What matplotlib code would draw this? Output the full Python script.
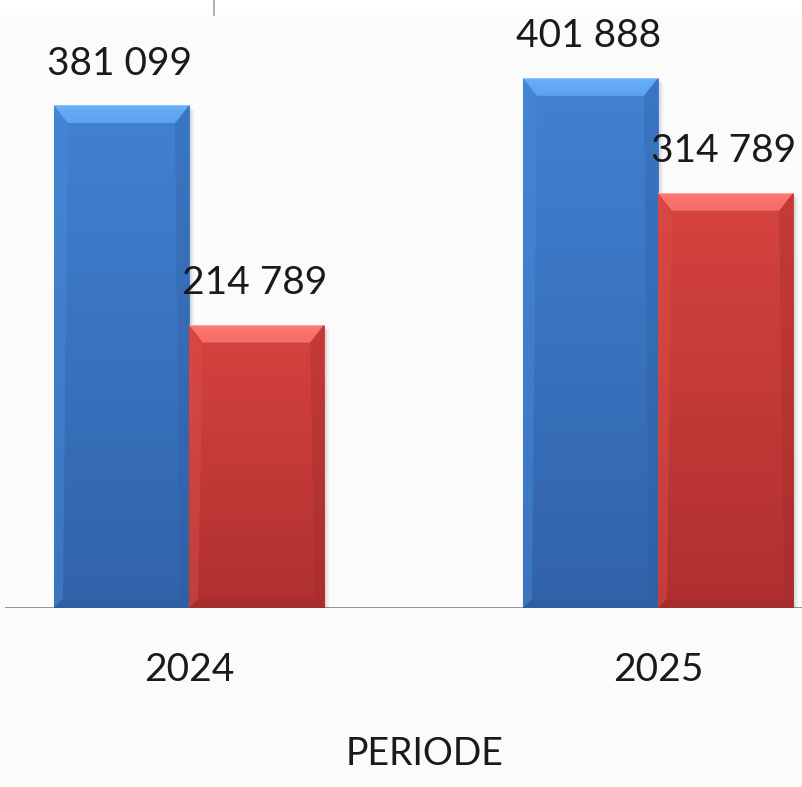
import matplotlib
matplotlib.use("Agg")
import matplotlib.pyplot as plt
import numpy as np
from matplotlib.patches import Polygon, Rectangle
from matplotlib.lines import Line2D
from matplotlib.colors import to_rgb

# ---- data ----
periods = ["2024", "2025"]
series_a = [381099, 401888]   # blue
series_b = [214789, 314789]   # red
labels_a = ["381 099", "401 888"]
labels_b = ["214 789", "314 789"]
axis_title = "PERIODE"

# ---- styles ----
FONT = ["Lato", "DejaVu Sans"]
styles = [
    dict(top="#4182d2", bottom="#3163aa", bevel_top="#5fa2ea", bevel_left="#4a8bd8",
         bevel_right="#2c5c9c", bevel_bottom="#2a5898"),
    dict(top="#d6433e", bottom="#af3030", bevel_top="#f26e69", bevel_left="#dc4f4a",
         bevel_right="#9c2a2a", bevel_bottom="#9a2a2a"),
]

W, H = 803, 787
fig = plt.figure(figsize=(W / 100, H / 100), dpi=100, facecolor="#fbfbfb")
fig.patches.append(Rectangle((0, 1 - 15 / H), 1, 15 / H, transform=fig.transFigure,
                             facecolor="white", edgecolor="none", zorder=0))
fig.lines.append(Line2D([214 / W, 214 / W], [1, 1 - 15 / H], transform=fig.transFigure,
                        color="#9aa89a", lw=1.2))

ax = fig.add_axes([5 / W, (H - 608) / H, 798 / W, (608 - 15) / H])
ax.set_facecolor("#fbfbfb")
ax.set_xlim(-0.3923, 1.3092)
ax.set_ylim(0, 449500)
for s in ax.spines.values():
    s.set_visible(False)
ax.set_yticks([])
x = np.arange(len(periods))
ax.set_xticks(x)
ax.set_xticklabels(periods, fontsize=28, family=FONT, color="#1a1a1a")
ax.tick_params(axis="x", length=0, pad=32)
ax.axhline(0, color="#8c8c8c", lw=2, zorder=1)

w = 0.288
bars_a = ax.bar(x - w / 2, series_a, w, color=styles[0]["top"], zorder=2, linewidth=0)
bars_b = ax.bar(x + w / 2, series_b, w, color=styles[1]["top"], zorder=2, linewidth=0)

fig.canvas.draw()
inv = ax.transData.inverted()
p0 = inv.transform((0, 0))
p1 = inv.transform((1, 1))
dx_px = p1[0] - p0[0]
dy_px = p1[1] - p0[1]
bx = 14 * dx_px
by = 18 * dy_px
sbx = 9 * dx_px

def bevel(bars, st):
    for r in bars:
        x0, y0 = r.get_x(), r.get_y()
        x1, y1 = x0 + r.get_width(), y0 + r.get_height()
        # soft shadow
        for k, a in ((5, 0.05), (3, 0.07)):
            ax.add_patch(Rectangle((x0 + k * dx_px, y0), r.get_width(), r.get_height() - k * dy_px,
                                   facecolor="black", alpha=a, edgecolor="none", zorder=1.5))
        # vertical gradient face
        c1, c2 = np.array(to_rgb(st["top"])), np.array(to_rgb(st["bottom"]))
        t = np.linspace(0, 1, 256)[:, None]
        grad = (c1[None, :] * (1 - t) + c2[None, :] * t)[:, None, :]
        im = ax.imshow(grad, extent=(x0, x1, y0, y1), aspect="auto", origin="upper",
                       zorder=2.1, interpolation="bilinear")
        im.set_clip_path(r)
        # top bevel with gradient (lighter at the edge)
        ct = np.array(to_rgb(st["bevel_top"]))
        tg = np.linspace(0, 1, 64)[:, None]
        tgrad = (np.minimum(ct * 1.08, 1)[None, :] * (1 - tg) + ct[None, :] * tg)[:, None, :]
        poly = Polygon([(x0, y1), (x1, y1), (x1 - bx, y1 - by), (x0 + bx, y1 - by)],
                       closed=True, facecolor="none", edgecolor="none", zorder=2.3)
        ax.add_patch(poly)
        tim = ax.imshow(tgrad, extent=(x0, x1, y1 - by, y1), aspect="auto", origin="upper",
                        zorder=2.3, interpolation="bilinear")
        tim.set_clip_path(poly)
        ax.add_patch(Polygon([(x0, y1), (x0 + bx, y1 - by), (x0 + sbx, y0 + by * 0.5), (x0, y0)],
                             closed=True, facecolor=st["bevel_left"], edgecolor="none", alpha=0.45, zorder=2.2))
        ax.add_patch(Polygon([(x1, y1), (x1 - bx, y1 - by), (x1 - sbx, y0 + by * 0.5), (x1, y0)],
                             closed=True, facecolor=st["bevel_right"], edgecolor="none", alpha=0.3, zorder=2.2))
        ax.add_patch(Polygon([(x0, y0), (x1, y0), (x1 - sbx, y0 + by * 0.5), (x0 + sbx, y0 + by * 0.5)],
                             closed=True, facecolor=st["bevel_bottom"], edgecolor="none", alpha=0.45, zorder=2.2))
        ax.plot([x0, x1], [y1, y1], color="white", alpha=0.3, lw=1, zorder=2.4)

bevel(bars_a, styles[0])
bevel(bars_b, styles[1])

for bars, labs in ((bars_a, labels_a), (bars_b, labels_b)):
    for r, lab in zip(bars, labs):
        ax.annotate(lab, (r.get_x() + r.get_width() / 2 - 2 * dx_px, r.get_height()),
                    xytext=(0, 22), textcoords="offset points", ha="center", va="baseline",
                    fontsize=28, family=FONT, color="#1a1a1a", zorder=5)

fig.text(425 / W, (H - 765) / H, axis_title, ha="center", va="baseline",
         fontsize=27, family=FONT, color="#1a1a1a")

fig.savefig("out.png", dpi=100, facecolor=fig.get_facecolor())
